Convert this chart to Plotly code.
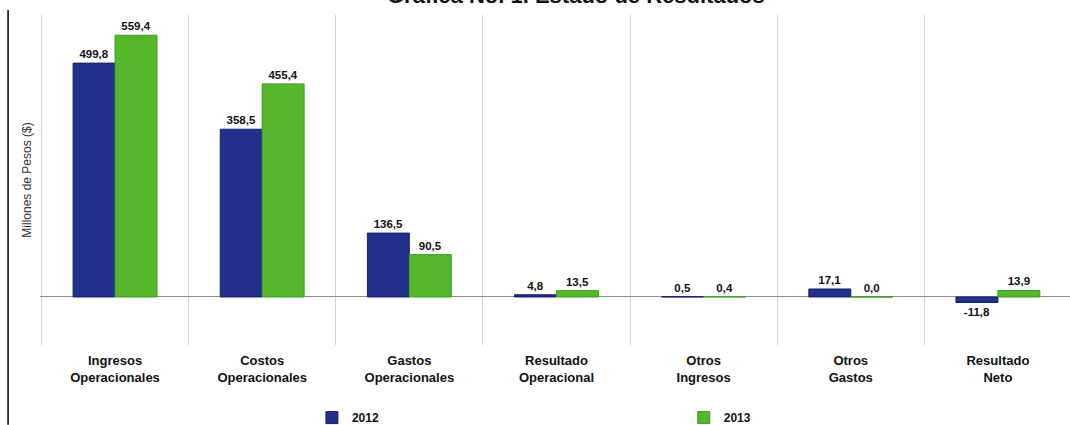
import plotly.graph_objects as go

categories = ["Ingresos<br>Operacionales", "Costos<br>Operacionales", "Gastos<br>Operacionales",
              "Resultado<br>Operacional", "Otros<br>Ingresos", "Otros<br>Gastos", "Resultado<br>Neto"]
values_2012 = [499.8, 358.5, 136.5, 4.8, 0.5, 17.1, -11.8]
values_2013 = [559.4, 455.4, 90.5, 13.5, 0.4, 0.0, 13.9]
title_text = "Gráfica No. 1. Estado de Resultados"

font_family = "Liberation Sans, Arial, sans-serif"

fig = go.Figure()
fig.add_trace(go.Bar(
    x=categories, y=values_2012, name="2012", legend="legend",
    marker=dict(color="#22318C", line=dict(color="#15206A", width=1)),
    texttemplate="<b>%{y:.1f}</b>", textposition="outside", cliponaxis=False,
    textfont=dict(family=font_family, size=11.5, color="#111111"),
))
fig.add_trace(go.Bar(
    x=categories, y=values_2013, name="2013", legend="legend2",
    marker=dict(color="#55B72C", line=dict(color="#3E9A22", width=1)),
    texttemplate="<b>%{y:.1f}</b>", textposition="outside", cliponaxis=False,
    textfont=dict(family=font_family, size=11.5, color="#111111"),
))

legend_common = dict(orientation="h", y=-0.22, xref="paper", yref="paper",
                     xanchor="left", yanchor="middle", itemwidth=30,
                     font=dict(size=12, family=font_family, color="#111111", weight="bold"),
                     bgcolor="rgba(0,0,0,0)")

fig.update_layout(
    width=1070, height=425,
    margin=dict(l=40, r=0, t=15, b=80, autoexpand=False),
    paper_bgcolor="white", plot_bgcolor="white",
    separators=",.",
    barmode="group", bargap=0.43, bargroupgap=0.0,
    font=dict(family=font_family, color="#111111"),
    legend=dict(x=0.264, **legend_common),
    legend2=dict(x=0.625, **legend_common),
    showlegend=True,
)
fig.add_annotation(text="<b>" + title_text + "</b>", xref="paper", yref="paper",
                   x=0.52, y=1.0576, xanchor="center", yanchor="middle", showarrow=False,
                   font=dict(size=22, family=font_family, color="#111111"))
fig.update_xaxes(
    type="category", tickson="boundaries", showgrid=True, gridcolor="#C9D4E8", gridwidth=1,
    ticks="", showline=False, zeroline=False, automargin=False, range=[-0.51, 6.49],
    ticklabelstandoff=6,
    tickfont=dict(family=font_family, size=13, color="#111111", weight="bold"),
)
fig.update_yaxes(
    range=[-102.6, 602.6], showgrid=False, showticklabels=False, ticks="",
    zeroline=True, zerolinecolor="#8C8C8C", zerolinewidth=1, showline=False, automargin=False,
    title=dict(text="Millones de Pesos ($)", standoff=4,
               font=dict(size=12, family=font_family, color="#333333")),
)
fig.add_shape(type="line", xref="paper", yref="paper",
              x0=-0.031, x1=-0.031, y0=-0.242, y1=1.015,
              line=dict(color="#000000", width=1.5))

fig.write_html("out.html", config={"displayModeBar": False},
               post_script="document.body.style.margin='0';")
